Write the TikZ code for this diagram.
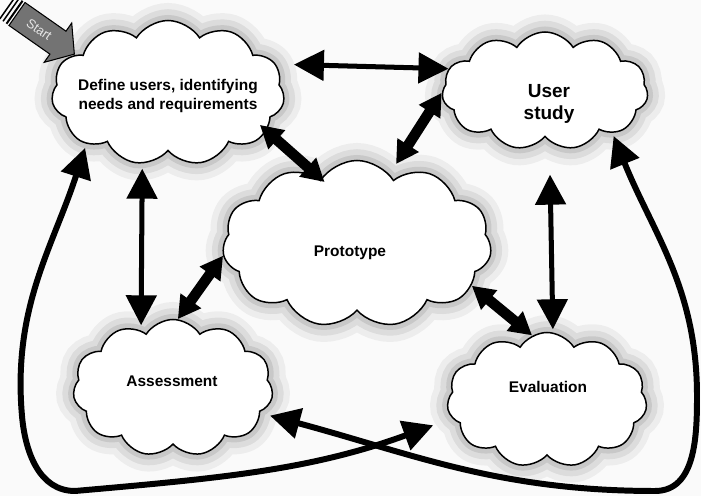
\documentclass[tikz,border=0pt]{standalone}
\usepackage{fontspec}
\setmainfont{Liberation Sans}
\usetikzlibrary{arrows.meta,shapes.symbols}

\begin{document}
\begin{tikzpicture}[x=0.2mm, y=0.2mm,
	bubble/.style={cloud, cloud puffs=11, cloud puff arc=115, cloud ignores aspect,
		inner sep=0pt, fill=white, draw=black, line width=0.85pt,
		preaction={draw=black, opacity=0.05, line width=7mm},
		preaction={draw=black, opacity=0.07, line width=4.5mm},
		preaction={draw=black, opacity=0.09, line width=2.2mm}},
	txt/.style={font=\bfseries\fontsize{8.8}{10.8}\selectfont, align=center},
	twoway/.style={line width=2.85pt, {Triangle[length=6mm,width=6mm]}-{Triangle[length=6mm,width=6mm]}},
	blockway/.style={line width=6pt, {Triangle[length=4.5mm,width=4.8mm]}-{Triangle[length=4.5mm,width=4.8mm]}},
	longway/.style={line width=3.4pt, {Triangle[length=6mm,width=6mm]}-{Triangle[length=6mm,width=6mm]}}]
	\useasboundingbox (0,0) rectangle (701,496);
	\fill[gray!4] (0,0) rectangle (701,496);

	% the five stages
	\node[bubble, minimum width=46.6mm, minimum height=29mm] (define) at (168,403) {};
	\node[bubble, minimum width=41.2mm, minimum height=23.6mm] (user) at (545,405) {};
	\node[bubble, minimum width=53.8mm, minimum height=33.4mm] (proto) at (357,252) {};
	\node[bubble, minimum width=40mm, minimum height=27.4mm] (assess) at (173,108) {};
	\node[bubble, minimum width=40mm, minimum height=27mm] (eval) at (547,96) {};

	\node[txt] (define-txt) at (168,400) {Define users, identifying\\needs and requirements};
	\node[txt, font=\bfseries\fontsize{10.8}{12.5}\selectfont] (user-txt) at (549,392) {User\\study};
	\node[txt] (proto-txt) at (350,243) {Prototype};
	\node[txt] (assess-txt) at (172,115) {Assessment};
	\node[txt] (eval-txt) at (548,109) {Evaluation};

	% start marker, a striped block arrow
	\begin{scope}[shift={(17,482)}, rotate=-35]
		\filldraw[fill=black!55, line width=0.6pt] (0,-14) -- (50,-14) -- (50,-24) -- (70,0)
			-- (50,24) -- (50,14) -- (0,14) -- cycle;
		\fill (-4,-14) rectangle (-2,14);
		\fill (-8,-14) rectangle (-6.5,14);
		\fill (-12,-14) rectangle (-10.5,14);
		\node[rotate=-35, text=white!90!black, font=\fontsize{7.4}{8}\selectfont] (start) at (27,0) {Start};
	\end{scope}

	% links between stages
	\draw[twoway, shorten <=3.6mm] (define.15) -- (user.167);
	\draw[blockway, shorten <=-1.8mm, shorten >=-1mm] (define.-21) -- (proto.119);
	\draw[blockway, shorten >=2.4mm] (user.181) -- (proto.65);
	\draw[twoway, shorten <=1mm, shorten >=1mm] (define.250) -- (assess.119);
	\draw[blockway] (proto.185) -- (assess.86);
	\draw[twoway, shorten <=6.6mm, shorten >=0.6mm] (user.-85) -- (eval.85);
	\draw[blockway] (proto.-20) -- (eval.103);

	% the two long loops round the outside
	\draw[longway, shorten <=0.8mm, shorten >=4mm] (define.212) to[out=-108, in=95] (22,80)
		to[out=-85, in=180] (75,5) to[out=5, in=200] (eval.191);
	\draw[longway, shorten <=0.6mm, shorten >=2mm] (user.-32) to[out=-68, in=90] (697,100)
		to[out=-90, in=0] (655,5) to[out=180, in=-15] (assess.-16);
\end{tikzpicture}
\end{document}
